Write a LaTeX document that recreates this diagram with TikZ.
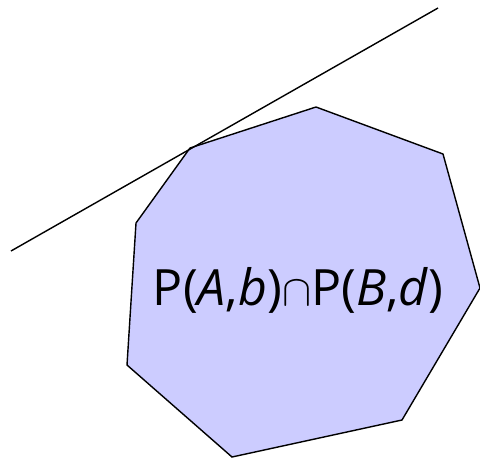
\documentclass[tikz,border=0pt]{standalone}
\usepackage{fontspec}
\setmainfont{Open Sans}
\usetikzlibrary{positioning}
\tikzset{
    region/.style={draw=black, fill=blue!20, line width=0.8pt},
    cutline/.style={draw=black, line width=0.8pt},
    label/.style={font=\fontsize{28.5}{32}\selectfont, inner sep=0pt}
}

\begin{document}
\begin{tikzpicture}[x=0.02cm, y=-0.02cm]
        % Frame
        \useasboundingbox (0,0) rectangle (480,457);
        
        % Vertices
        \coordinate (v1) at (190,148);
        \coordinate (v2) at (316,107);
        \coordinate (v3) at (443,154);
        \coordinate (v4) at (480,288);
        \coordinate (v5) at (402,420);
        \coordinate (v6) at (232,457);
        \coordinate (v7) at (127,365);
        \coordinate (v8) at (136,223);
        
        % Polygon
        \draw[region] (v1) -- (v2) -- (v3) -- (v4) -- (v5) -- (v6) -- (v7) -- (v8) -- cycle;
        
        % Supporting line
        \coordinate (lstart) at (11,251);
        \coordinate (lend) at (438,8);
        \draw[cutline] (lstart) -- (lend);
        
        % Label
        \node (lbl) at (298,290) [label] {P(\textit{A},\textit{b})$\cap$P(\textit{B},\textit{d})};
    \end{tikzpicture}
\end{document}
